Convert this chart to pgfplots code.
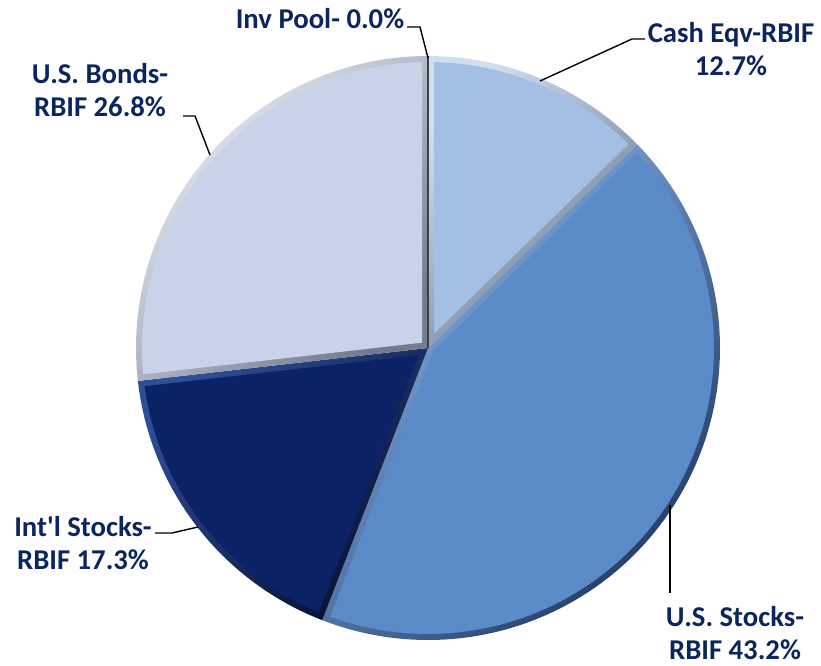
\documentclass[border=0pt]{standalone}
\usepackage{fontspec}
\setmainfont{Carlito}[Ligatures=TeXOff]
\usepackage{pgfplots}
\pgfplotsset{compat=1.18}
\definecolor{cashM}{HTML}{A3BFE3}\definecolor{cashL}{HTML}{D0DEF2}\definecolor{cashD}{HTML}{66778F}
\definecolor{ussM}{HTML}{5A8AC8}\definecolor{ussL}{HTML}{8DB7EE}\definecolor{ussD}{HTML}{213A66}
\definecolor{intlM}{HTML}{0B2366}\definecolor{intlL}{HTML}{2E4E98}\definecolor{intlD}{HTML}{050F30}
\definecolor{bondM}{HTML}{C8D3EA}\definecolor{bondL}{HTML}{EDF1F9}\definecolor{bondD}{HTML}{737B8F}
\definecolor{lbl}{HTML}{0B2560}
% data (percent)
\def\vCash{12.7}\def\vUSS{43.2}\def\vIntl{17.3}\def\vBond{26.8}\def\vPool{0.0}
% geometry (pixel units)
\def\cx{428}\def\cy{348}\def\R{292}\def\dd{6}
\pgfmathsetmacro\aO{90}
\pgfmathsetmacro\aA{\aO-3.6*\vCash}
\pgfmathsetmacro\aB{\aA-3.6*\vUSS}
\pgfmathsetmacro\aC{\aB-3.6*\vIntl}
\pgfmathsetmacro\aD{\aC-3.6*\vBond}
\pgfmathsetmacro\ri{\R-\dd}
\pgfmathsetmacro\del{asin(\dd/\ri)}
% inset vertices
\pgfmathsetmacro\sA{\dd/sin((\aO-\aA)/2)}\pgfmathsetmacro\bA{(\aO+\aA)/2}
\pgfmathsetmacro\xA{\cx+\sA*cos(\bA)}\pgfmathsetmacro\yA{\cy-\sA*sin(\bA)}
\pgfmathsetmacro\sB{\dd/sin((\aA-\aB)/2)}\pgfmathsetmacro\bB{(\aA+\aB)/2}
\pgfmathsetmacro\xB{\cx+\sB*cos(\bB)}\pgfmathsetmacro\yB{\cy-\sB*sin(\bB)}
\pgfmathsetmacro\sC{\dd/sin((\aB-\aC)/2)}\pgfmathsetmacro\bC{(\aB+\aC)/2}
\pgfmathsetmacro\xC{\cx+\sC*cos(\bC)}\pgfmathsetmacro\yC{\cy-\sC*sin(\bC)}
\pgfmathsetmacro\sD{\dd/sin((\aC-\aD)/2)}\pgfmathsetmacro\bD{(\aC+\aD)/2}
\pgfmathsetmacro\xD{\cx+\sD*cos(\bD)}\pgfmathsetmacro\yD{\cy-\sD*sin(\bD)}
\begin{document}
\begin{tikzpicture}
\begin{axis}[hide axis, x=0.5bp, y=0.5bp, xmin=0, xmax=821, ymin=0, ymax=666,
  y dir=reverse, clip=false, samples=121, variable=\t,
  every axis plot/.append style={no markers}]
\path (axis cs:0,0) rectangle (axis cs:821,666);
% Cash Eqv
\addplot[draw=none, top color=cashL, bottom color=cashD, shading angle=45, domain=\aA:\aO] ({\cx+\R*cos(\t)},{\cy-\R*sin(\t)}) -- (axis cs:\cx,\cy) -- cycle;
\addplot[draw=none, fill=cashM, domain=\aA+\del:\aO-\del] ({\cx+\ri*cos(\t)},{\cy-\ri*sin(\t)}) -- (axis cs:\xA,\yA) -- cycle;
% U.S. Stocks
\addplot[draw=none, top color=ussL, bottom color=ussD, shading angle=45, domain=\aB:\aA] ({\cx+\R*cos(\t)},{\cy-\R*sin(\t)}) -- (axis cs:\cx,\cy) -- cycle;
\addplot[draw=none, fill=ussM, domain=\aB+\del:\aA-\del] ({\cx+\ri*cos(\t)},{\cy-\ri*sin(\t)}) -- (axis cs:\xB,\yB) -- cycle;
% Int'l Stocks
\addplot[draw=none, top color=intlL, bottom color=intlD, shading angle=45, domain=\aC:\aB] ({\cx+\R*cos(\t)},{\cy-\R*sin(\t)}) -- (axis cs:\cx,\cy) -- cycle;
\addplot[draw=none, fill=intlM, domain=\aC+\del:\aB-\del] ({\cx+\ri*cos(\t)},{\cy-\ri*sin(\t)}) -- (axis cs:\xC,\yC) -- cycle;
% U.S. Bonds
\addplot[draw=none, top color=bondL, bottom color=bondD, shading angle=45, domain=\aD:\aC] ({\cx+\R*cos(\t)},{\cy-\R*sin(\t)}) -- (axis cs:\cx,\cy) -- cycle;
\addplot[draw=none, fill=bondM, domain=\aD+\del:\aC-\del] ({\cx+\ri*cos(\t)},{\cy-\ri*sin(\t)}) -- (axis cs:\xD,\yD) -- cycle;
% Inv Pool (0.0%) edge
\draw[black!75, line width=0.9bp] (axis cs:\cx,\cy) -- (axis cs:\cx,{\cy-\R});
% leader lines
\draw[black, line width=0.7bp] (axis cs:407,27) -- (axis cs:420,27) -- (axis cs:428,58);
\draw[black, line width=0.7bp] (axis cs:645,39) -- (axis cs:632,39) -- (axis cs:540,81);
\draw[black, line width=0.7bp] (axis cs:183,116) -- (axis cs:195,116) -- (axis cs:210,155);
\draw[black, line width=0.7bp] (axis cs:155,533) -- (axis cs:172,533) -- (axis cs:198,527);
\draw[black, line width=0.7bp] (axis cs:670,505) -- (axis cs:670,593);
% labels
\tikzset{lab/.style={text=lbl, font=\fontsize{14.4}{16.6}\selectfont\bfseries, align=center, inner sep=0pt}}
\node[lab] at (axis cs:320,19) {Inv Pool- 0.0\%};
\node[lab] at (axis cs:731,49) {Cash Eqv-RBIF\\12.7\%};
\node[lab] at (axis cs:100,90) {U.S. Bonds-\\RBIF 26.8\%};
\node[lab] at (axis cs:83,543) {Int'l Stocks-\\RBIF 17.3\%};
\node[lab] at (axis cs:735,633) {U.S. Stocks-\\RBIF 43.2\%};
\end{axis}
\end{tikzpicture}
\end{document}
